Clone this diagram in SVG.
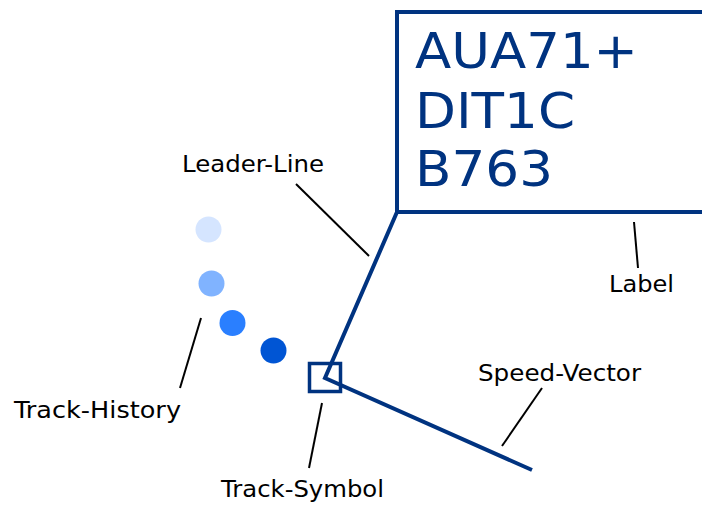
<svg xmlns="http://www.w3.org/2000/svg" width="702" height="505" viewBox="0 0 702 505">
<style>
.lbl{font-family:"DejaVu Sans",sans-serif;font-size:23.5px;fill:#000}
.big{font-family:"DejaVu Sans",sans-serif;font-size:49px;fill:#003380}
.ptr{stroke:#000;stroke-width:2;fill:none}
.blue{stroke:#003380;stroke-width:4;fill:none}
</style>
<rect width="702" height="505" fill="#fff"/>
<g id="history">
<circle cx="208.5" cy="229.5" r="13" fill="#d5e5ff"/>
<circle cx="211.5" cy="283.5" r="13" fill="#80b3ff"/>
<circle cx="232.5" cy="323" r="13" fill="#2a7fff"/>
<circle cx="273.5" cy="350.5" r="13" fill="#0055d4"/>
</g>
<g id="label-box">
<rect class="blue" x="397" y="12" width="320" height="200"/>
<text class="big" x="415" y="68" textLength="223" lengthAdjust="spacingAndGlyphs">AUA71+</text>
<text class="big" x="415" y="128" textLength="160" lengthAdjust="spacingAndGlyphs">DIT1C</text>
<text class="big" x="415" y="186" textLength="138" lengthAdjust="spacingAndGlyphs">B763</text>
</g>
<g id="track-symbol">
<rect x="309.5" y="363.5" width="31" height="28" fill="none" stroke="#003380" stroke-width="3.5"/>
</g>
<g id="connectors">
<polyline class="blue" points="397,212 325,378 532,470"/>
<line class="ptr" x1="296" y1="184" x2="369" y2="256"/>
<line class="ptr" x1="634" y1="222" x2="638" y2="268"/>
<line class="ptr" x1="201" y1="318" x2="180" y2="388"/>
<line class="ptr" x1="322" y1="403" x2="309" y2="468"/>
<line class="ptr" x1="542" y1="388" x2="502" y2="446"/>
</g>
<g id="labels">
<text class="lbl" x="182" y="172" textLength="142" lengthAdjust="spacingAndGlyphs">Leader-Line</text>
<text class="lbl" x="609" y="292" textLength="65" lengthAdjust="spacingAndGlyphs">Label</text>
<text class="lbl" x="14" y="418" textLength="167" lengthAdjust="spacingAndGlyphs">Track-History</text>
<text class="lbl" x="221" y="497" textLength="163" lengthAdjust="spacingAndGlyphs">Track-Symbol</text>
<text class="lbl" x="478" y="381" textLength="163" lengthAdjust="spacingAndGlyphs">Speed-Vector</text>
</g>
</svg>
